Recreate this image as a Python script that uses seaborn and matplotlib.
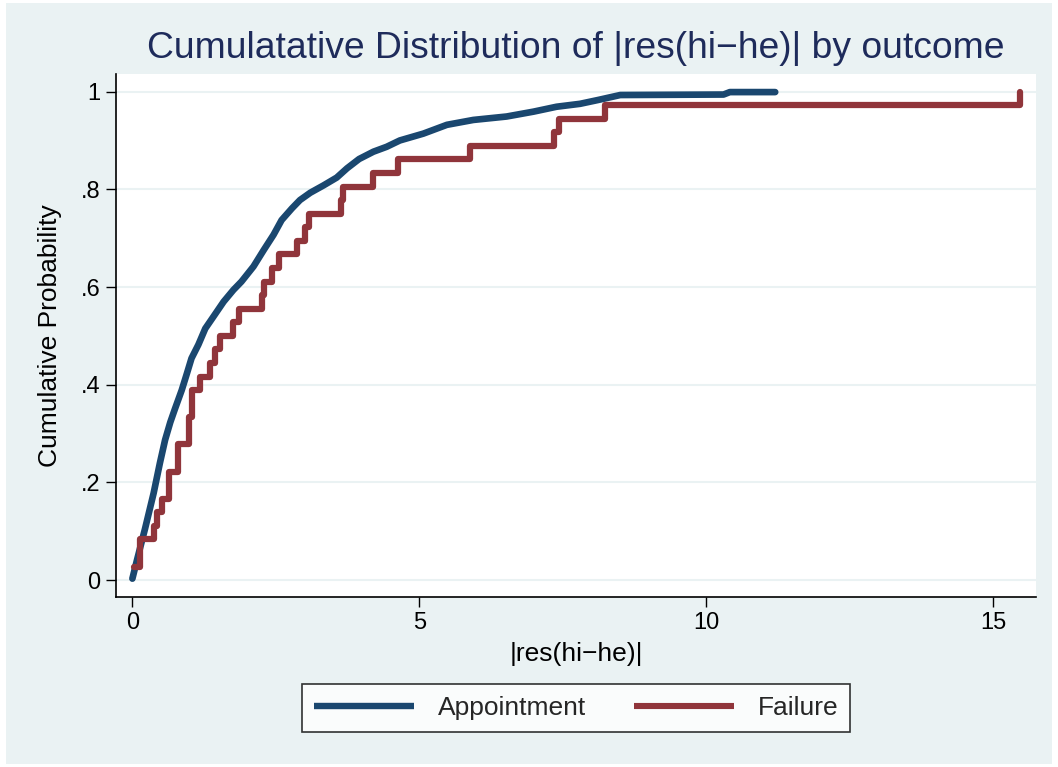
import numpy as np
import pandas as pd
import seaborn as sns
import matplotlib.pyplot as plt
from matplotlib.patches import Rectangle
from matplotlib.lines import Line2D

# Failure group: |res(hi-he)| values (36 obs)
failure_vals = [0.03, 0.13, 0.13, 0.37, 0.43, 0.51, 0.64, 0.64, 0.80, 0.80,
                0.99, 0.99, 1.03, 1.03, 1.17, 1.35, 1.44, 1.52, 1.76, 1.85,
                2.25, 2.29, 2.44, 2.56, 2.87, 3.01, 3.08, 3.64, 3.67, 4.20,
                4.62, 5.89, 7.34, 7.43, 8.24, 15.47]

# Appointment group: curve (many small steps)
appt_x = [0.0, 0.08, 0.22, 0.37, 0.48, 0.57, 0.66, 0.74, 0.86, 0.95,
          1.03, 1.15, 1.27, 1.41, 1.59, 1.76, 1.90, 2.11, 2.29, 2.46,
          2.60, 2.78, 2.92, 3.10, 3.33, 3.56, 3.74, 3.95, 4.20, 4.43,
          4.66, 5.07, 5.48, 5.94, 6.52, 6.99, 7.39, 7.80, 8.12, 8.50,
          10.30, 10.41, 11.20]
appt_cdf = [0.003, 0.041, 0.105, 0.178, 0.240, 0.287, 0.323, 0.350, 0.389, 0.423,
            0.454, 0.482, 0.515, 0.539, 0.570, 0.594, 0.611, 0.642, 0.676, 0.707,
            0.737, 0.761, 0.778, 0.793, 0.808, 0.824, 0.843, 0.862, 0.877, 0.887,
            0.900, 0.914, 0.932, 0.942, 0.949, 0.959, 0.969, 0.975, 0.983, 0.993,
            0.994, 0.999, 0.999]

y_ticks = [0, 0.2, 0.4, 0.6, 0.8, 1.0]
y_tick_labels = ['0', '.2', '.4', '.6', '.8', '1']
x_ticks = [0, 5, 10, 15]
series_names = ['Appointment', 'Failure']

blue = '#1a476f'
red = '#90353b'
bg = '#eaf2f3'

sns.set_theme(style='white')
plt.rcParams['font.family'] = ['Liberation Sans', 'DejaVu Sans']

# empirical cdf for the failure group
fail = pd.DataFrame({'x': np.sort(failure_vals)})
fail['cdf'] = np.arange(1, len(fail) + 1) / len(fail)
appt = pd.DataFrame({'x': appt_x, 'cdf': appt_cdf})

fig = plt.figure(figsize=(10.58, 7.67), dpi=100, facecolor='white')
fig.patches.append(Rectangle((6 / 1058, 3 / 767), 1046 / 1058, 761 / 767,
                             transform=fig.transFigure, facecolor=bg,
                             edgecolor='none', zorder=-10))
ax = fig.add_axes([0.1094, 0.222, 0.8696, 0.6815])
ax.set_facecolor('white')

sns.lineplot(data=appt, x='x', y='cdf', ax=ax, color=blue, linewidth=4.8,
             estimator=None, sort=False, solid_capstyle='round')
sns.lineplot(data=fail, x='x', y='cdf', ax=ax, color=red, linewidth=4.5,
             estimator=None, sort=False, drawstyle='steps-post')

ax.set_xlim(-0.29, 15.74)
ax.set_ylim(-0.034, 1.036)
ax.set_xticks(x_ticks)
ax.set_xticklabels([str(t) for t in x_ticks])
ax.set_yticks(y_ticks)
ax.set_yticklabels(y_tick_labels)
ax.tick_params(axis='both', which='both', direction='out', length=7, width=1,
               color='black', labelsize=17, pad=4, labelcolor='black',
               left=True, bottom=True)
ax.yaxis.grid(True, color=bg, linewidth=1.5)
ax.xaxis.grid(False)
ax.set_axisbelow(True)
for side in ['top', 'right']:
    ax.spines[side].set_visible(False)
for side in ['left', 'bottom']:
    ax.spines[side].set_color('black')
    ax.spines[side].set_linewidth(1.2)
ax.set_xlabel('')
ax.set_ylabel('')

fig.text(0.5444, 0.924, 'Cumulatative Distribution of |res(hi\u2212he)| by outcome',
         ha='center', va='baseline', fontsize=26.8, color='#1e2b5b')
fig.text(0.5444, 0.147, '|res(hi\u2212he)|', ha='center', va='center',
         fontsize=19, color='black')
fig.text(0.0473, 0.5625, 'Cumulative Probability', ha='center', va='center',
         rotation=90, fontsize=19, color='black')

handles = [Line2D([], [], color=blue, linewidth=4.6, solid_capstyle='butt'),
           Line2D([], [], color=red, linewidth=4.4, solid_capstyle='butt')]
leg = fig.legend(handles, series_names, loc='center', ncol=2,
                 bbox_to_anchor=(0.5444, 0.0769), fontsize=19,
                 frameon=True, fancybox=False, edgecolor='black',
                 handlelength=3.8, handletextpad=0.9, columnspacing=1.8,
                 borderpad=0.45)
leg.get_frame().set_facecolor('white')
leg.get_frame().set_linewidth(1.2)

fig.savefig('out.png', dpi=100, facecolor=fig.get_facecolor())
